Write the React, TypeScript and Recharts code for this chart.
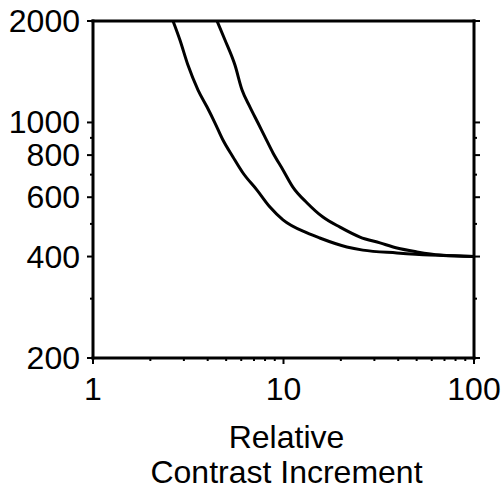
import { Line, LineChart, XAxis, YAxis } from "recharts";

// left curve (log-log)
const curveAX = [2.63, 2.86, 3.15, 3.56, 3.97, 4.37, 4.81, 5.43, 6.13, 7.26, 8.49, 9.94, 13.3, 15.5, 21.5, 26.1, 39.4, 58.7, 100];
const curveAY = [2000, 1756, 1480, 1248, 1111, 996, 887, 790, 708, 630, 561, 514, 470, 454, 427, 418, 410, 404, 400];

// right curve
const curveBX = [4.48, 4.93, 5.56, 6.06, 6.67, 7.35, 8.0, 8.81, 9.94, 11.2, 13.3, 16.1, 19.8, 25.2, 32.1, 39.4, 50.2, 66.3, 100];
const curveBY = [2000, 1756, 1480, 1248, 1111, 996, 905, 812, 723, 643, 577, 524, 489, 457, 439, 424, 413, 404, 400];

const xTicks = [1, 2, 3, 4, 5, 6, 7, 8, 9, 10, 20, 30, 40, 50, 60, 70, 80, 90, 100];
const xLabels = [1, 10, 100];
const yTicks = [200, 300, 400, 500, 600, 700, 800, 900, 1000, 2000];
const yLabels = [200, 400, 600, 800, 1000, 2000];
const xTitle = ["Relative", "Contrast Increment"];

const FONT = 32;
const FAMILY = "Arial, 'Liberation Sans', sans-serif";
const axisLine = { stroke: "#000", strokeWidth: 3, strokeLinecap: "square" as const };

type TickProps = { x?: number; y?: number; payload?: { value: number } };

function BottomTick({ x = 0, y = 0, payload }: TickProps) {
  const v = payload?.value ?? 0;
  const major = xLabels.includes(v);
  return (
    <g>
      <line x1={x} y1={y} x2={x} y2={y + (major ? 6 : 3)} stroke="#000" strokeWidth={2} />
      {major && (
        <text x={x} y={y + 42} textAnchor="middle" fontSize={FONT} fontFamily={FAMILY} fill="#000">
          {v}
        </text>
      )}
    </g>
  );
}

function TopTick({ x = 0, y = 0, payload }: TickProps) {
  const major = xLabels.includes(payload?.value ?? 0);
  return <line x1={x} y1={y} x2={x} y2={y - (major ? 6 : 3)} stroke="#000" strokeWidth={2} />;
}

function LeftTick({ x = 0, y = 0, payload }: TickProps) {
  const v = payload?.value ?? 0;
  const major = yLabels.includes(v);
  return (
    <g>
      <line x1={x} y1={y} x2={x - (major ? 6 : 3)} y2={y} stroke="#000" strokeWidth={2} />
      {major && (
        <text x={x - 13} y={y + 11} textAnchor="end" fontSize={FONT} fontFamily={FAMILY} fill="#000">
          {v}
        </text>
      )}
    </g>
  );
}

function RightTick({ x = 0, y = 0, payload }: TickProps) {
  const major = yLabels.includes(payload?.value ?? 0);
  return <line x1={x} y1={y} x2={x + (major ? 6 : 3)} y2={y} stroke="#000" strokeWidth={2} />;
}

function XTitle(props: { viewBox?: { x?: number; y?: number; width?: number } }) {
  const vb = props.viewBox ?? {};
  const cx = (vb.x ?? 93) + (vb.width ?? 381) / 2 + 3;
  const top = vb.y ?? 358;
  return (
    <text textAnchor="middle" fontSize={FONT} fontFamily={FAMILY} fill="#000">
      <tspan x={cx} y={top + 90}>{xTitle[0]}</tspan>
      <tspan x={cx} y={top + 125}>{xTitle[1]}</tspan>
    </text>
  );
}

export default function App() {
  const curveA = curveAX.map((x, i) => ({ x, y: curveAY[i] }));
  const curveB = curveBX.map((x, i) => ({ x, y: curveBY[i] }));

  return (
    <div style={{ position: "absolute", left: 0, top: 0, background: "#fff" }}>
      <LineChart width={501} height={489} margin={{ top: 11, right: 17, bottom: 11, left: 0 }}>
        <XAxis
          dataKey="x"
          type="number"
          scale="log"
          domain={[1, 100]}
          allowDataOverflow
          ticks={xTicks}
          interval={0}
          tick={BottomTick}
          tickLine={false}
          tickSize={0}
          tickMargin={0}
          axisLine={axisLine}
          height={120}
          label={(p: any) => <XTitle viewBox={p?.viewBox} />}
        />
        <XAxis
          xAxisId="top"
          orientation="top"
          type="number"
          scale="log"
          domain={[1, 100]}
          allowDataOverflow
          ticks={xTicks}
          interval={0}
          tick={TopTick}
          tickLine={false}
          tickSize={0}
          tickMargin={0}
          axisLine={axisLine}
          height={10}
        />
        <YAxis
          type="number"
          scale="log"
          domain={[200, 2000]}
          allowDataOverflow
          ticks={yTicks}
          interval={0}
          tick={LeftTick}
          tickLine={false}
          tickSize={0}
          tickMargin={0}
          axisLine={axisLine}
          width={93}
        />
        <YAxis
          yAxisId="right"
          orientation="right"
          type="number"
          scale="log"
          domain={[200, 2000]}
          allowDataOverflow
          ticks={yTicks}
          interval={0}
          tick={RightTick}
          tickLine={false}
          tickSize={0}
          tickMargin={0}
          axisLine={axisLine}
          width={10}
        />
        <Line
          data={curveA}
          dataKey="y"
          type="monotone"
          stroke="#000"
          strokeWidth={3}
          dot={false}
          isAnimationActive={false}
        />
        <Line
          data={curveB}
          dataKey="y"
          type="monotone"
          stroke="#000"
          strokeWidth={3}
          dot={false}
          isAnimationActive={false}
        />
      </LineChart>
    </div>
  );
}
